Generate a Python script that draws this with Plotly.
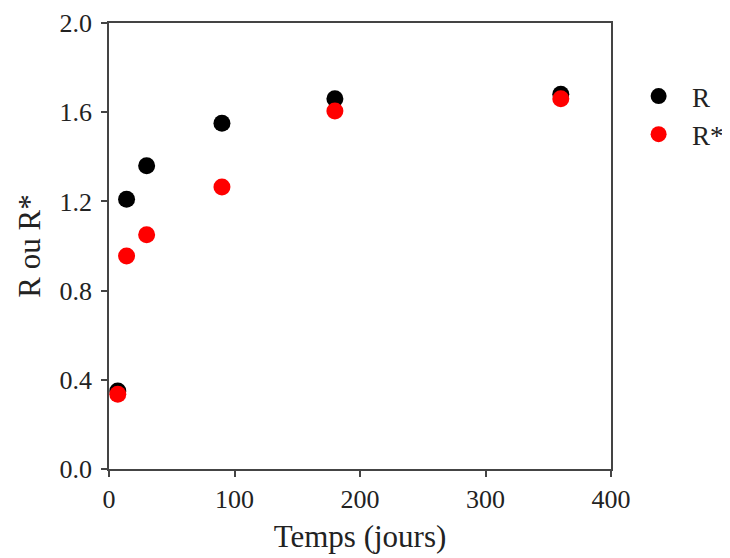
import plotly.graph_objects as go

temps = [7, 14, 30, 90, 180, 360]
r_vals = [0.35, 1.21, 1.36, 1.55, 1.66, 1.68]
r_star_vals = [0.335, 0.955, 1.05, 1.265, 1.605, 1.66]
legend_names = ["R", "R*"]

font_family = "Liberation Serif"
pad = "\u00a0\u00a0"

fig = go.Figure()
fig.add_trace(go.Scatter(x=temps, y=r_vals, mode="markers", name=pad + legend_names[0],
                         marker=dict(color="black", size=17)))
fig.add_trace(go.Scatter(x=temps, y=r_star_vals, mode="markers", name=pad + legend_names[1],
                         marker=dict(color="#ff0000", size=17)))

axis_common = dict(showline=True, linecolor="#444", linewidth=1.5, mirror=True,
                   ticks="outside", ticklen=6, tickcolor="#444", tickwidth=1.5,
                   showgrid=False, zeroline=False, automargin=False,
                   tickfont=dict(family=font_family, size=26, color="#222"))

# page body adds an 8px margin, so the figure is 8px smaller and shifted
fig.update_layout(
    width=722, height=550,
    margin=dict(l=101, r=119, t=15, b=89, autoexpand=False),
    plot_bgcolor="white", paper_bgcolor="white",
    font=dict(family=font_family, color="#222"),
    xaxis=dict(range=[0, 400], tickvals=[0, 100, 200, 300, 400],
               title=dict(text="Temps (jours)", font=dict(family=font_family, size=31), standoff=12),
               **axis_common),
    yaxis=dict(range=[0, 2.0], tickvals=[0, 0.4, 0.8, 1.2, 1.6, 2.0],
               ticktext=["0.0", "0.4", "0.8", "1.2", "1.6", "2.0"],
               ticklabelstandoff=4,
               title=dict(text="R ou R*", font=dict(family=font_family, size=31), standoff=10),
               **axis_common),
    legend=dict(x=1.055, y=0.89, xanchor="left", yanchor="top",
                font=dict(family=font_family, size=27, color="#222"),
                bgcolor="rgba(0,0,0,0)", itemsizing="trace"),
)

fig.write_html("out.html")
